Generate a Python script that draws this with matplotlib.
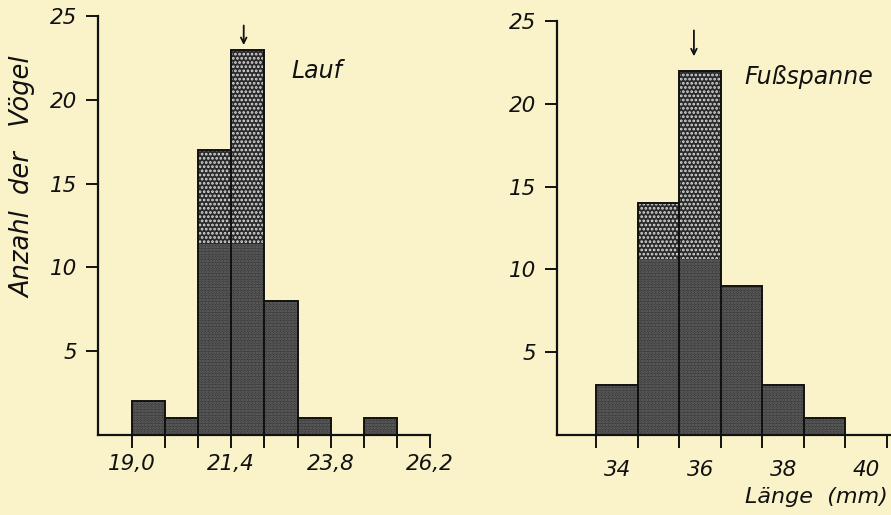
import matplotlib
matplotlib.use("Agg")
import matplotlib.pyplot as plt
import numpy as np
from matplotlib.ticker import FixedLocator

# ---- data ----
lauf_edges = [19.0, 19.8, 20.6, 21.4, 22.2, 23.0, 23.8, 24.6, 25.4]
lauf_total = [2, 1, 17, 23, 8, 1, 0, 1]
lauf_lower = [2, 1, 11.4, 11.4, 8, 1, 0, 1]
lauf_major = [19.0, 21.4, 23.8, 26.2]
lauf_major_labels = ["19,0", "21,4", "23,8", "26,2"]
lauf_minor = [19.8, 20.6, 22.2, 23.0, 24.6, 25.4]
lauf_mean = 21.7

fuss_edges = [33.5, 34.5, 35.5, 36.5, 37.5, 38.5, 39.5]
fuss_total = [3, 14, 22, 9, 3, 1]
fuss_lower = [3, 10.6, 10.6, 9, 3, 1]
fuss_major = [34, 36, 38, 40]
fuss_major_labels = ["34", "36", "38", "40"]
fuss_minor = [33.5, 34.5, 35.5, 36.5, 37.5, 38.5, 39.5, 40.5]
fuss_mean = 35.85

y_ticks = [5, 10, 15, 20, 25]

BG = "#FAF3CA"
INK = "#111111"
FONT = dict(family=["DejaVu Sans"], style="oblique")

W, H = 891, 515
fig = plt.figure(figsize=(W / 100, H / 100), dpi=100, facecolor=BG)

def px_axes(x0, x1, y0, y1):
    return fig.add_axes([x0 / W, 1 - y1 / H, (x1 - x0) / W, (y1 - y0) / H])

axL = px_axes(98, 430, 16, 435)
axR = px_axes(557, 891, 21, 435)

plt.rcParams["hatch.linewidth"] = 1.3

def draw_hist(ax, edges, total, lower):
    edges = np.array(edges)
    left = edges[:-1]
    width = np.diff(edges)
    total = np.array(total, float)
    lower = np.array(lower, float)
    upper = total - lower
    ax.bar(left, lower, width=width, align="edge", color="#363636",
           edgecolor="#6a6a6a", hatch="......", linewidth=0, zorder=2)
    ax.bar(left, upper, bottom=lower, width=width, align="edge",
           color="#2a2a2a", edgecolor="#dcdcdc", hatch="....",
           linewidth=0, zorder=2)
    for l, w, t in zip(left, width, total):
        if t > 0:
            ax.bar(l, t, width=w, align="edge", fill=False,
                   edgecolor=INK, linewidth=1.4, zorder=3)

draw_hist(axL, lauf_edges, lauf_total, lauf_lower)
draw_hist(axR, fuss_edges, fuss_total, fuss_lower)

for ax in (axL, axR):
    ax.patch.set_alpha(0)
    ax.set_ylim(0, 25)
    for s in ("top", "right"):
        ax.spines[s].set_visible(False)
    for s in ("left", "bottom"):
        ax.spines[s].set_linewidth(1.6)
        ax.spines[s].set_color(INK)
    ax.set_yticks(y_ticks)
    ax.set_yticklabels([str(v) for v in y_ticks], fontsize=15.5,
                       color=INK, **FONT)
    ax.tick_params(axis="y", length=9, width=1.4, pad=6, color=INK)

axL.set_xlim(18.18, 26.2)
axL.xaxis.set_major_locator(FixedLocator(lauf_major))
axL.xaxis.set_minor_locator(FixedLocator(lauf_minor))
axL.set_xticklabels(lauf_major_labels, fontsize=15.5, color=INK, **FONT)
axL.tick_params(axis="x", which="both", length=9, width=1.4, pad=5,
                color=INK)

axR.set_xlim(32.55, 40.6)
axR.xaxis.set_major_locator(FixedLocator(fuss_major))
axR.xaxis.set_minor_locator(FixedLocator(fuss_minor))
axR.set_xticklabels(fuss_major_labels, fontsize=15.5, color=INK, **FONT)
axR.tick_params(axis="x", which="major", length=0, pad=18)
axR.tick_params(axis="x", which="minor", length=9, width=1.4, color=INK)

# arrows marking the mean
axL.annotate("", xy=(lauf_mean, 23.1), xytext=(lauf_mean, 24.6),
             arrowprops=dict(arrowstyle="->", lw=1.3, color=INK),
             annotation_clip=False)
axR.annotate("", xy=(fuss_mean, 22.7), xytext=(fuss_mean, 24.6),
             arrowprops=dict(arrowstyle="->", lw=1.3, color=INK),
             annotation_clip=False)

axL.text(22.84, 21.7, "Lauf", fontsize=17, va="center", ha="left",
         color=INK, **FONT)
axR.text(37.07, 21.6, "Fußspanne", fontsize=17, va="center", ha="left",
         color=INK, clip_on=False, **FONT)

fig.text(23 / W, 1 - 177 / H, "Anzahl  der   Vögel", rotation=90,
         fontsize=18.5, ha="center", va="center", color=INK, **FONT)
fig.text(888 / W, 1 - 497 / H, "Länge  (mm)", fontsize=16, ha="right",
         va="center", color=INK, **FONT)

fig.savefig("out.png", dpi=100, facecolor=BG)
